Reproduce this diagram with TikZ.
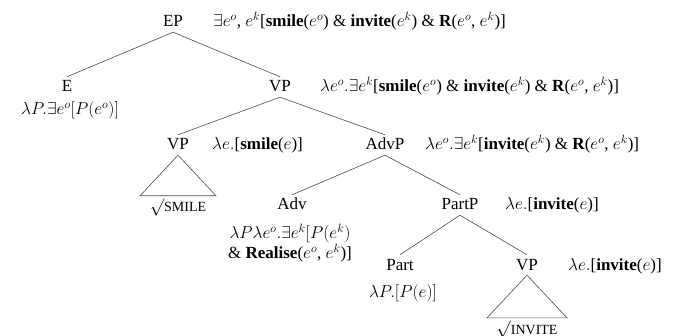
\documentclass[tikz,border=0pt]{standalone}
\usepackage{fontspec}
\setmainfont{Liberation Serif}
\begin{document}
\begin{tikzpicture}[x=1pt,y=-1pt,
  cat/.style={anchor=base,inner xsep=1pt,inner ysep=3pt,text height=12pt,text depth=2pt},
  lab/.style={anchor=base west,inner sep=0pt},
  labc/.style={anchor=base,inner sep=0pt,align=center},
  edge/.style={draw=black!70,line width=0.6pt},
  every node/.style={font=\fontsize{17}{20}\selectfont}]
\useasboundingbox (0,0) rectangle (679,336);
% category nodes
\node[cat] (ep) at (173,27) {EP};
\node[cat] (e) at (67,92) {E};
\node[cat] (vp) at (280,92) {VP};
\node[cat] (vps) at (178,150) {VP};
\node[cat] (advp) at (385,150) {AdvP};
\node[cat] (adv) at (292,210) {Adv};
\node[cat] (partp) at (460,210) {PartP};
\node[cat] (part) at (400,270) {Part};
\node[cat] (vpi) at (527,270) {VP};
\node[cat,inner ysep=1pt] (smile) at (178,212) {$\surd${\fontsize{14}{16}\selectfont SMILE}};
\node[cat,inner ysep=1pt] (invite) at (527,334) {$\surd${\fontsize{14}{16}\selectfont INVITE}};
% semantic labels
\node[lab] (lep) at (213,27) {$\exists e^o$, $e^k$[\textbf{smile}($e^o$) \& \textbf{invite}($e^k$) \& \textbf{R}($e^o$, $e^k$)]};
\node[labc] (le) at (70,115) {$\lambda P.\exists e^o[P(e^o)]$};
\node[lab] (lvp) at (320,92) {$\lambda e^o.\exists e^k$[\textbf{smile}($e^o$) \& \textbf{invite}($e^k$) \& \textbf{R}($e^o$, $e^k$)]};
\node[lab] (lvps) at (212,150) {$\lambda e.$[\textbf{smile}($e$)]};
\node[lab] (ladvp) at (425,150) {$\lambda e^o.\exists e^k$[\textbf{invite}($e^k$) \& \textbf{R}($e^o$, $e^k$)]};
\node[anchor=north,inner sep=0pt,align=center] (ladv) at (290,224) {$\lambda P\lambda e^o.\exists e^k[P(e^k)$\\\& \textbf{Realise}($e^o$, $e^k$)]};
\node[lab] (lpartp) at (505,210) {$\lambda e.$[\textbf{invite}($e$)]};
\node[labc] (lpart) at (403,298) {$\lambda P.[P(e)]$};
\node[lab] (lvpi) at (568,270) {$\lambda e.$[\textbf{invite}($e$)]};
% edges
\draw[edge] (ep.south) -- (e.north);
\draw[edge] (ep.south) -- (vp.north);
\draw[edge] (vp.south) -- (vps.north);
\draw[edge] (vp.south) -- (advp.north);
\draw[edge] (advp.south) -- (adv.north);
\draw[edge] (advp.south) -- (partp.north);
\draw[edge] (partp.south) -- (part.north);
\draw[edge] (partp.south) -- (vpi.north);
\draw[edge] (vps.south) -- ([xshift=-38pt,yshift=3pt]smile.north) -- ([xshift=38pt,yshift=3pt]smile.north) -- cycle;
\draw[edge] (vpi.south) -- ([xshift=-40pt,yshift=3pt]invite.north) -- ([xshift=40pt,yshift=3pt]invite.north) -- cycle;
\end{tikzpicture}
\end{document}
